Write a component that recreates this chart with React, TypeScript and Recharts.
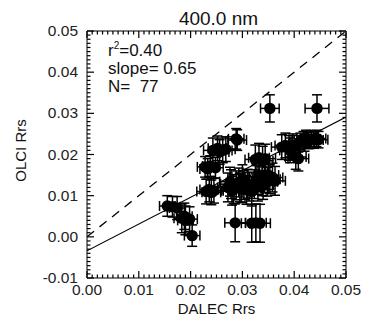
import { ScatterChart, Scatter, XAxis, YAxis, ErrorBar, ReferenceLine, Label } from "recharts"

const FONT = "'Liberation Sans', Arial, Helvetica, sans-serif"

// DALEC (x) vs OLCI (y) Rrs at 400 nm, with uncertainties
const dalec = [
    0.0155, 0.0165, 0.0174, 0.0183, 0.019, 0.0198, 0.0203, 0.0188,
    0.023, 0.024, 0.0236, 0.0245,
    0.0228, 0.0238, 0.0248, 0.0233,
    0.0243, 0.0252, 0.0262, 0.0256, 0.0268,
    0.029, 0.0288,
    0.0272, 0.0278, 0.0283, 0.0288, 0.0293, 0.0298, 0.0303, 0.0308, 0.0313, 0.0318, 0.0323,
    0.0328, 0.0333, 0.0338, 0.0343, 0.0348, 0.0353, 0.0358, 0.0363, 0.028, 0.0295, 0.031,
    0.0325, 0.0332, 0.0339, 0.0344,
    0.0286, 0.0318, 0.0326, 0.0334,
    0.0353, 0.0444,
    0.0376, 0.0383, 0.039, 0.0397, 0.0403, 0.0408, 0.0392,
    0.0412, 0.0418, 0.0423, 0.0428, 0.0433, 0.0438, 0.0443, 0.0447, 0.042, 0.0408,
    0.033, 0.034, 0.035, 0.03, 0.0276,
]
const olci = [
    0.0075, 0.0073, 0.007, 0.0045, 0.004, 0.0043, 0.0003, 0.005,
    0.011, 0.0108, 0.0115, 0.0112,
    0.017, 0.0172, 0.0168, 0.0165,
    0.021, 0.0215, 0.021, 0.0206, 0.0213,
    0.0235, 0.0238,
    0.012, 0.0128, 0.0116, 0.0125, 0.0132, 0.0118, 0.0126, 0.0114, 0.0122, 0.011, 0.0128,
    0.0138, 0.0146, 0.0135, 0.0142, 0.0134, 0.014, 0.0144, 0.0136, 0.0112, 0.012, 0.0129,
    0.0188, 0.0192, 0.0185, 0.019,
    0.0034, 0.0033, 0.0034, 0.0033,
    0.0312, 0.0312,
    0.0218, 0.0222, 0.0216, 0.022, 0.0194, 0.019, 0.021,
    0.0232, 0.0236, 0.0239, 0.0234, 0.0238, 0.0235, 0.0239, 0.0236, 0.0228, 0.0226,
    0.0122, 0.0126, 0.015, 0.014, 0.0134,
]
const dalecErr = [
    0.0015, 0.0015, 0.0015, 0.0015, 0.0015, 0.0015, 0.0015, 0.0015,
    0.0018, 0.0018, 0.0018, 0.0018,
    0.0015, 0.0015, 0.0015, 0.0015,
    0.0018, 0.0018, 0.0018, 0.0018, 0.0018,
    0.0018, 0.0015,
    0.002, 0.002, 0.002, 0.002, 0.002, 0.002, 0.002, 0.002, 0.002, 0.002, 0.002,
    0.002, 0.002, 0.002, 0.002, 0.002, 0.002, 0.002, 0.002, 0.002, 0.002, 0.002,
    0.002, 0.002, 0.002, 0.002,
    0.002, 0.002, 0.002, 0.002,
    0.0018, 0.0023,
    0.002, 0.002, 0.002, 0.002, 0.002, 0.002, 0.002,
    0.0018, 0.0018, 0.0018, 0.0018, 0.0018, 0.0018, 0.0018, 0.0018, 0.0018, 0.0018,
    0.002, 0.002, 0.002, 0.002, 0.002,
]
const olciErr = [
    0.0025, 0.0025, 0.0028, 0.0035, 0.0035, 0.003, 0.0026, 0.0032,
    0.003, 0.003, 0.003, 0.003,
    0.0025, 0.0025, 0.0025, 0.0025,
    0.003, 0.003, 0.003, 0.003, 0.003,
    0.0025, 0.0025,
    0.0035, 0.0035, 0.0035, 0.0035, 0.0035, 0.0035, 0.0035, 0.0035, 0.0035, 0.0035, 0.0035,
    0.0035, 0.0035, 0.0035, 0.0035, 0.0035, 0.0035, 0.0035, 0.0035, 0.0035, 0.0035, 0.0035,
    0.0035, 0.0035, 0.0035, 0.0035,
    0.0046, 0.0046, 0.0046, 0.0046,
    0.0033, 0.0033,
    0.003, 0.003, 0.003, 0.003, 0.003, 0.003, 0.003,
    0.002, 0.002, 0.002, 0.002, 0.002, 0.002, 0.002, 0.002, 0.002, 0.002,
    0.0035, 0.0035, 0.0035, 0.0035, 0.0035,
]

// regression (solid) and 1:1 (dashed) lines
const fitLine = [{ x: 0, y: -0.0034 }, { x: 0.05, y: 0.0291 }]
const oneToOne = [{ x: 0, y: 0 }, { x: 0.05, y: 0.05 }]

const stats = ["=0.40", "slope= 0.65", "N=  77"]

const X_MIN = 0
const X_MAX = 0.05
const Y_MIN = -0.01
const Y_MAX = 0.05

const xTicks = Array.from({ length: 51 }, (_, i) => +(i * 0.001).toFixed(3))
const yTicks = Array.from({ length: 61 }, (_, i) => +(-0.01 + i * 0.001).toFixed(3))

const rows = dalec.map((x, i) => ({ x, y: olci[i], ex: dalecErr[i], ey: olciErr[i] }))

const isMajor = (v: number) => Math.abs(v * 100 - Math.round(v * 100)) < 1e-6
const tickLen = (v: number) => (isMajor(v) ? 7 : 3.5)
const TW = 1.2

// numbers under / left of the frame
function makeLabel(side: string) {
    return (props: any) => {
        const x = Number(props.x)
        const y = Number(props.y)
        const v = Number(props.payload.value)
        if (!isMajor(v)) return <g />
        if (side === "bottom")
            return <text x={x} y={y + 17} textAnchor="middle" fontSize={15.5} fontFamily={FONT} fill="#222">{v.toFixed(2)}</text>
        return <text x={x - 9} y={y + 5} textAnchor="end" fontSize={15.5} fontFamily={FONT} fill="#222">{v.toFixed(2)}</text>
    }
}

const xPos = (vb: any, v: number) => vb.x + ((v - X_MIN) / (X_MAX - X_MIN)) * vb.width
const yPos = (vb: any, v: number) => vb.y + ((Y_MAX - v) / (Y_MAX - Y_MIN)) * vb.height

// inward tick combs, drawn from each axis' own box
const BottomDeco = (p: any) => {
    const vb = p.viewBox
    return (
        <g>
            {xTicks.map((v) => (
                <rect key={v} x={xPos(vb, v) - TW / 2} y={vb.y - tickLen(v)} width={TW} height={tickLen(v)} fill="#000" />
            ))}
            <text x={vb.x + vb.width / 2} y={vb.y + 36} fontSize={15} textAnchor="middle" fontFamily={FONT} fill="#111">DALEC Rrs</text>
        </g>
    )
}

const TopDeco = (p: any) => {
    const vb = p.viewBox
    const left = vb.x + 21
    const bottom = vb.y + vb.height
    return (
        <g fontFamily={FONT} fill="#111">
            {xTicks.map((v) => (
                <rect key={v} x={xPos(vb, v) - TW / 2} y={bottom} width={TW} height={tickLen(v)} fill="#000" />
            ))}
            <text x={vb.x + vb.width / 2 + 2} y={bottom - 6} fontSize={19} textAnchor="middle">400.0 nm</text>
            <text x={left} y={bottom + 25} fontSize={17}>r<tspan dy={-7} fontSize={10}>2</tspan><tspan dy={7}>{stats[0]}</tspan></text>
            <text x={left} y={bottom + 43} fontSize={17} style={{ whiteSpace: "pre" }}>{stats[1]}</text>
            <text x={left} y={bottom + 61} fontSize={17} style={{ whiteSpace: "pre" }}>{stats[2]}</text>
        </g>
    )
}

const LeftDeco = (p: any) => {
    const vb = p.viewBox
    const edge = vb.x + vb.width
    return (
        <g>
            {yTicks.map((v) => (
                <rect key={v} x={edge} y={yPos(vb, v) - TW / 2} width={tickLen(v)} height={TW} fill="#000" />
            ))}
            <text transform={`translate(${vb.x + 26},${vb.y + vb.height / 2 - 4}) rotate(-90)`} fontSize={15} textAnchor="middle"
                fontFamily={FONT} fill="#111">OLCI Rrs</text>
        </g>
    )
}

const RightDeco = (p: any) => {
    const vb = p.viewBox
    return (
        <g>
            {yTicks.map((v) => (
                <rect key={v} x={vb.x - tickLen(v)} y={yPos(vb, v) - TW / 2} width={tickLen(v)} height={TW} fill="#000" />
            ))}
        </g>
    )
}

const Dot = (p: any) => <circle cx={p.cx} cy={p.cy} r={5.7} fill="#000" />

export default function App() {
    return (
        <div style={{ position: "absolute", left: 0, top: 0, width: 365, height: 323, background: "#fff" }}>
            <ScatterChart width={365} height={323} margin={{ top: 0, right: 0, bottom: 0, left: 0 }}>
                <XAxis xAxisId="b" dataKey="x" type="number" orientation="bottom" domain={[X_MIN, X_MAX]} ticks={xTicks} interval={0}
                    height={45} tickSize={0} tickMargin={0} tickLine={false} tick={makeLabel("bottom")} stroke="#000" allowDataOverflow>
                    <Label content={BottomDeco} />
                </XAxis>
                <XAxis xAxisId="t" type="number" orientation="top" domain={[X_MIN, X_MAX]} height={31} tick={false} tickLine={false}
                    stroke="#000" allowDataOverflow>
                    <Label content={TopDeco} />
                </XAxis>
                <YAxis yAxisId="l" dataKey="y" type="number" orientation="left" domain={[Y_MIN, Y_MAX]} ticks={yTicks} interval={0}
                    width={87} tickSize={0} tickMargin={0} tickLine={false} tick={makeLabel("left")} stroke="#000" allowDataOverflow>
                    <Label content={LeftDeco} />
                </YAxis>
                <YAxis yAxisId="r" type="number" orientation="right" domain={[Y_MIN, Y_MAX]} width={19} tick={false} tickLine={false}
                    stroke="#000" allowDataOverflow>
                    <Label content={RightDeco} />
                </YAxis>

                <ReferenceLine xAxisId="b" yAxisId="l" segment={oneToOne} stroke="#000" strokeWidth={1.3} strokeDasharray="9 7" ifOverflow="hidden" />
                <ReferenceLine xAxisId="b" yAxisId="l" segment={fitLine} stroke="#000" strokeWidth={1.1} ifOverflow="hidden" />
                <Scatter xAxisId="b" yAxisId="l" data={rows} shape={Dot} isAnimationActive={false}>
                    <ErrorBar dataKey="ex" direction="x" width={5} stroke="#000" strokeWidth={1.5} isAnimationActive={false} />
                    <ErrorBar dataKey="ey" direction="y" width={5} stroke="#000" strokeWidth={1.5} isAnimationActive={false} />
                </Scatter>
            </ScatterChart>
        </div>
    )
}
